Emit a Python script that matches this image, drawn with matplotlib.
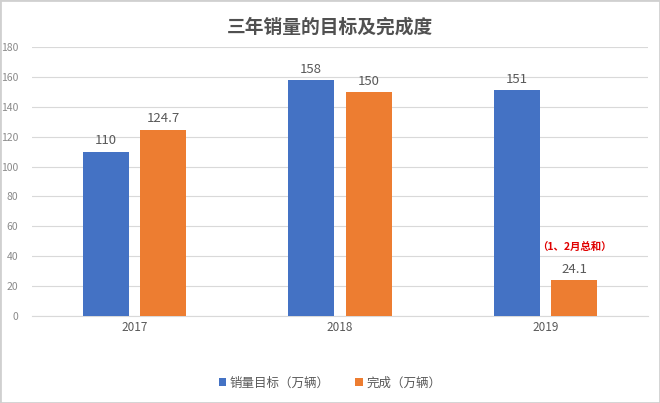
import numpy as np
import matplotlib
matplotlib.use('Agg')
import matplotlib.pyplot as plt
from matplotlib.patches import Rectangle

plt.rcParams['font.family'] = ['Noto Sans CJK SC', 'DejaVu Sans']

# Data
years = ['2017', '2018', '2019']
target = [110, 158, 151]
done = [124.7, 150, 24.1]
done_labels = ['124.7', '150', '24.1']
series_names = ['销量目标（万辆）', '完成（万辆）']
colors = ['#4472C4', '#ED7D31']
grey = '#595959'

fig = plt.figure(figsize=(6.6, 4.03), dpi=100)
ax = fig.add_axes([32 / 660, 87 / 403, 616 / 660, 269 / 403])

x = np.arange(len(years))
w = 0.224
b1 = ax.bar(x - 0.14, target, w, color=colors[0], label=series_names[0], zorder=3)
b2 = ax.bar(x + 0.14, done, w, color=colors[1], label=series_names[1], zorder=3)

ax.bar_label(b1, labels=[str(v) for v in target], padding=3, fontsize=9.5, color=grey)
ax.bar_label(b2, labels=done_labels, padding=3, fontsize=9.5, color=grey)

# note above the 2019 completion bar
ax.annotate('（1、2月总和）', xy=(x[2] + 0.14, done[2]), xytext=(0, 20),
            textcoords='offset points', ha='center', va='bottom',
            fontsize=7.5, color='#E00000', fontweight='bold')

ax.set_xlim(-0.5, 2.5)
ax.set_ylim(0, 180)
ax.set_yticks(np.arange(0, 181, 20))
ax.set_xticks(x)
ax.set_xticklabels(years)
ax.tick_params(axis='both', length=0, colors=grey, labelsize=8.5)
ax.tick_params(axis='y', pad=10, labelsize=7.5, colors='#8a8a8a')
ax.yaxis.grid(True, color='#D9D9D9', linewidth=0.8, zorder=0)
for s in ['top', 'right', 'left']:
    ax.spines[s].set_visible(False)
ax.spines['bottom'].set_color('#D9D9D9')

fig.text(0.5, 1 - 27 / 403, '三年销量的目标及完成度', ha='center', va='center',
         fontsize=13.5, color='#505050', fontweight='bold')

fig.legend(loc='center', bbox_to_anchor=(0.5, 1 - 383 / 403), ncol=2, frameon=False,
           fontsize=9, labelcolor=grey, handlelength=0.6, handleheight=0.6,
           handletextpad=0.3, columnspacing=2.0)

fig.patches.append(Rectangle((0, 0), 1, 1, transform=fig.transFigure, fill=False,
                             edgecolor='#D0D0D0', linewidth=2))

fig.savefig('out.png', dpi=100)
